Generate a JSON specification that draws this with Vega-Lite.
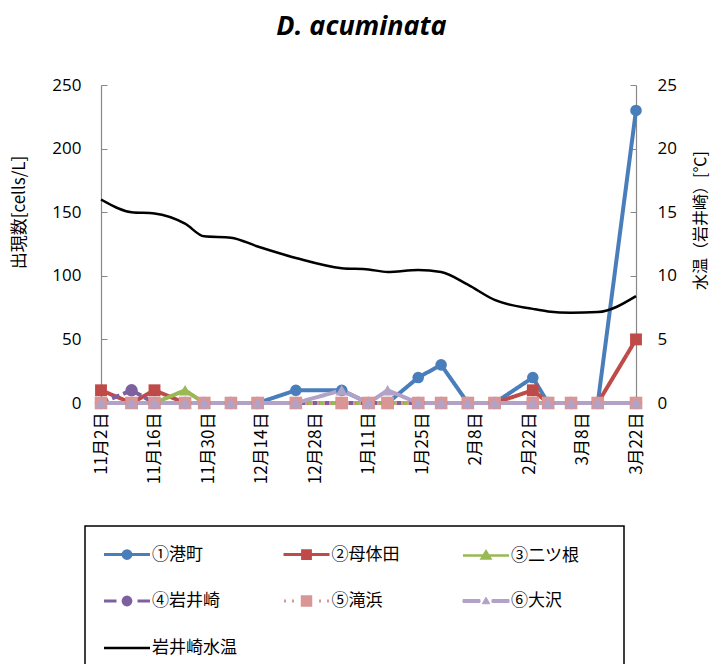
{
  "$schema": "https://vega.github.io/schema/vega-lite/v6.json",
  "width": 535,
  "height": 318,
  "autosize": {"type": "none"},
  "padding": {"left": 101, "top": 85, "right": 87, "bottom": 261},
  "background": "white",
  "title": {"text": "D. acuminata", "font": "Open Sans", "fontSize": 27, "fontWeight": "bold", "fontStyle": "italic", "color": "black", "anchor": "middle", "frame": "group", "dx": -7, "offset": 35},
  "data": {"values": [
    {"d": "2012/11/02", "s": "①港町", "v": 0}, {"d": "2012/11/10", "s": "①港町", "v": 0}, {"d": "2012/11/16", "s": "①港町", "v": 0}, {"d": "2012/11/24", "s": "①港町", "v": 0}, {"d": "2012/11/29", "s": "①港町", "v": 0}, {"d": "2012/12/06", "s": "①港町", "v": 0}, {"d": "2012/12/13", "s": "①港町", "v": 0}, {"d": "2012/12/23", "s": "①港町", "v": 10}, {"d": "2013/01/04", "s": "①港町", "v": 10}, {"d": "2013/01/11", "s": "①港町", "v": 0}, {"d": "2013/01/16", "s": "①港町", "v": 0}, {"d": "2013/01/24", "s": "①港町", "v": 20}, {"d": "2013/01/30", "s": "①港町", "v": 30}, {"d": "2013/02/06", "s": "①港町", "v": 0}, {"d": "2013/02/13", "s": "①港町", "v": 0}, {"d": "2013/02/23", "s": "①港町", "v": 20}, {"d": "2013/02/27", "s": "①港町", "v": 0}, {"d": "2013/03/05", "s": "①港町", "v": 0}, {"d": "2013/03/12", "s": "①港町", "v": 0}, {"d": "2013/03/22", "s": "①港町", "v": 230},
    {"d": "2012/11/02", "s": "②母体田", "v": 10}, {"d": "2012/11/10", "s": "②母体田", "v": 0}, {"d": "2012/11/16", "s": "②母体田", "v": 10}, {"d": "2012/11/24", "s": "②母体田", "v": 0}, {"d": "2012/11/29", "s": "②母体田", "v": 0}, {"d": "2012/12/06", "s": "②母体田", "v": 0}, {"d": "2012/12/13", "s": "②母体田", "v": 0}, {"d": "2012/12/23", "s": "②母体田", "v": 0}, {"d": "2013/01/04", "s": "②母体田", "v": 0}, {"d": "2013/01/11", "s": "②母体田", "v": 0}, {"d": "2013/01/16", "s": "②母体田", "v": 0}, {"d": "2013/01/24", "s": "②母体田", "v": 0}, {"d": "2013/01/30", "s": "②母体田", "v": 0}, {"d": "2013/02/06", "s": "②母体田", "v": 0}, {"d": "2013/02/13", "s": "②母体田", "v": 0}, {"d": "2013/02/23", "s": "②母体田", "v": 10}, {"d": "2013/02/27", "s": "②母体田", "v": 0}, {"d": "2013/03/05", "s": "②母体田", "v": 0}, {"d": "2013/03/12", "s": "②母体田", "v": 0}, {"d": "2013/03/22", "s": "②母体田", "v": 50},
    {"d": "2012/11/02", "s": "③二ツ根", "v": 0}, {"d": "2012/11/10", "s": "③二ツ根", "v": 0}, {"d": "2012/11/16", "s": "③二ツ根", "v": 0}, {"d": "2012/11/24", "s": "③二ツ根", "v": 10}, {"d": "2012/11/29", "s": "③二ツ根", "v": 0}, {"d": "2012/12/06", "s": "③二ツ根", "v": 0}, {"d": "2012/12/13", "s": "③二ツ根", "v": 0}, {"d": "2012/12/23", "s": "③二ツ根", "v": 0}, {"d": "2013/01/04", "s": "③二ツ根", "v": 0}, {"d": "2013/01/11", "s": "③二ツ根", "v": 0}, {"d": "2013/01/16", "s": "③二ツ根", "v": 0}, {"d": "2013/01/24", "s": "③二ツ根", "v": 0}, {"d": "2013/01/30", "s": "③二ツ根", "v": 0}, {"d": "2013/02/06", "s": "③二ツ根", "v": 0}, {"d": "2013/02/13", "s": "③二ツ根", "v": 0}, {"d": "2013/02/23", "s": "③二ツ根", "v": 0}, {"d": "2013/02/27", "s": "③二ツ根", "v": 0}, {"d": "2013/03/05", "s": "③二ツ根", "v": 0}, {"d": "2013/03/12", "s": "③二ツ根", "v": 0}, {"d": "2013/03/22", "s": "③二ツ根", "v": 0},
    {"d": "2012/11/02", "s": "④岩井崎", "v": 0}, {"d": "2012/11/10", "s": "④岩井崎", "v": 10}, {"d": "2012/11/16", "s": "④岩井崎", "v": 0}, {"d": "2012/11/24", "s": "④岩井崎", "v": 0}, {"d": "2012/11/29", "s": "④岩井崎", "v": 0}, {"d": "2012/12/06", "s": "④岩井崎", "v": 0}, {"d": "2012/12/13", "s": "④岩井崎", "v": 0}, {"d": "2012/12/23", "s": "④岩井崎", "v": 0}, {"d": "2013/01/04", "s": "④岩井崎", "v": 0}, {"d": "2013/01/11", "s": "④岩井崎", "v": 0}, {"d": "2013/01/16", "s": "④岩井崎", "v": 0}, {"d": "2013/01/24", "s": "④岩井崎", "v": 0}, {"d": "2013/01/30", "s": "④岩井崎", "v": 0}, {"d": "2013/02/06", "s": "④岩井崎", "v": 0}, {"d": "2013/02/13", "s": "④岩井崎", "v": 0}, {"d": "2013/02/23", "s": "④岩井崎", "v": 0}, {"d": "2013/02/27", "s": "④岩井崎", "v": 0}, {"d": "2013/03/05", "s": "④岩井崎", "v": 0}, {"d": "2013/03/12", "s": "④岩井崎", "v": 0}, {"d": "2013/03/22", "s": "④岩井崎", "v": 0},
    {"d": "2012/11/02", "s": "⑤滝浜", "v": 0}, {"d": "2012/11/10", "s": "⑤滝浜", "v": 0}, {"d": "2012/11/16", "s": "⑤滝浜", "v": 0}, {"d": "2012/11/24", "s": "⑤滝浜", "v": 0}, {"d": "2012/11/29", "s": "⑤滝浜", "v": 0}, {"d": "2012/12/06", "s": "⑤滝浜", "v": 0}, {"d": "2012/12/13", "s": "⑤滝浜", "v": 0}, {"d": "2012/12/23", "s": "⑤滝浜", "v": 0}, {"d": "2013/01/04", "s": "⑤滝浜", "v": 0}, {"d": "2013/01/11", "s": "⑤滝浜", "v": 0}, {"d": "2013/01/16", "s": "⑤滝浜", "v": 0}, {"d": "2013/01/24", "s": "⑤滝浜", "v": 0}, {"d": "2013/01/30", "s": "⑤滝浜", "v": 0}, {"d": "2013/02/06", "s": "⑤滝浜", "v": 0}, {"d": "2013/02/13", "s": "⑤滝浜", "v": 0}, {"d": "2013/02/23", "s": "⑤滝浜", "v": 0}, {"d": "2013/02/27", "s": "⑤滝浜", "v": 0}, {"d": "2013/03/05", "s": "⑤滝浜", "v": 0}, {"d": "2013/03/12", "s": "⑤滝浜", "v": 0}, {"d": "2013/03/22", "s": "⑤滝浜", "v": 0},
    {"d": "2012/11/02", "s": "⑥大沢", "v": 0}, {"d": "2012/11/10", "s": "⑥大沢", "v": 0}, {"d": "2012/11/16", "s": "⑥大沢", "v": 0}, {"d": "2012/11/24", "s": "⑥大沢", "v": 0}, {"d": "2012/11/29", "s": "⑥大沢", "v": 0}, {"d": "2012/12/06", "s": "⑥大沢", "v": 0}, {"d": "2012/12/13", "s": "⑥大沢", "v": 0}, {"d": "2012/12/23", "s": "⑥大沢", "v": 0}, {"d": "2013/01/04", "s": "⑥大沢", "v": 10}, {"d": "2013/01/11", "s": "⑥大沢", "v": 0}, {"d": "2013/01/16", "s": "⑥大沢", "v": 10}, {"d": "2013/01/24", "s": "⑥大沢", "v": 0}, {"d": "2013/01/30", "s": "⑥大沢", "v": 0}, {"d": "2013/02/06", "s": "⑥大沢", "v": 0}, {"d": "2013/02/13", "s": "⑥大沢", "v": 0}, {"d": "2013/02/23", "s": "⑥大沢", "v": 0}, {"d": "2013/02/27", "s": "⑥大沢", "v": 0}, {"d": "2013/03/05", "s": "⑥大沢", "v": 0}, {"d": "2013/03/12", "s": "⑥大沢", "v": 0}, {"d": "2013/03/22", "s": "⑥大沢", "v": 0},
    {"d": "2012/11/02", "s": "岩井崎水温", "v": 16.0}, {"d": "2012/11/10", "s": "岩井崎水温", "v": 15.0}, {"d": "2012/11/16", "s": "岩井崎水温", "v": 14.9}, {"d": "2012/11/24", "s": "岩井崎水温", "v": 14.1}, {"d": "2012/11/29", "s": "岩井崎水温", "v": 13.1}, {"d": "2012/12/06", "s": "岩井崎水温", "v": 13.0}, {"d": "2012/12/13", "s": "岩井崎水温", "v": 12.3}, {"d": "2012/12/23", "s": "岩井崎水温", "v": 11.4}, {"d": "2013/01/04", "s": "岩井崎水温", "v": 10.6}, {"d": "2013/01/11", "s": "岩井崎水温", "v": 10.5}, {"d": "2013/01/16", "s": "岩井崎水温", "v": 10.3}, {"d": "2013/01/24", "s": "岩井崎水温", "v": 10.45}, {"d": "2013/01/30", "s": "岩井崎水温", "v": 10.3}, {"d": "2013/02/06", "s": "岩井崎水温", "v": 9.3}, {"d": "2013/02/13", "s": "岩井崎水温", "v": 8.1}, {"d": "2013/02/23", "s": "岩井崎水温", "v": 7.4}, {"d": "2013/02/27", "s": "岩井崎水温", "v": 7.2}, {"d": "2013/03/05", "s": "岩井崎水温", "v": 7.1}, {"d": "2013/03/12", "s": "岩井崎水温", "v": 7.15}, {"d": "2013/03/22", "s": "岩井崎水温", "v": 8.4}
  ]},
  "layer": [
    {
      "transform": [{"filter": "datum.s !== '岩井崎水温'"}],
      "layer": [
        {
          "mark": {"type": "line", "strokeJoin": "round"},
          "encoding": {
            "x": {"field": "d", "type": "temporal",
              "scale": {"domain": [{"year": 2012, "month": 11, "date": 2}, {"year": 2013, "month": 3, "date": 22}], "nice": false},
              "axis": {"title": null, "format": "%-m月%-d日", "labelAngle": -90, "labelFont": "Noto Sans CJK JP", "labelFontSize": 17, "labelColor": "black", "labelPadding": 9, "ticks": false, "domainColor": "#888888", "domainWidth": 1.2, "grid": false, "labelOverlap": false,
                "values": [{"year": 2012, "month": 11, "date": 2}, {"year": 2012, "month": 11, "date": 16}, {"year": 2012, "month": 11, "date": 30}, {"year": 2012, "month": 12, "date": 14}, {"year": 2012, "month": 12, "date": 28}, {"year": 2013, "month": 1, "date": 11}, {"year": 2013, "month": 1, "date": 25}, {"year": 2013, "month": 2, "date": 8}, {"year": 2013, "month": 2, "date": 22}, {"year": 2013, "month": 3, "date": 8}, {"year": 2013, "month": 3, "date": 22}]}},
            "y": {"field": "v", "type": "quantitative",
              "scale": {"domain": [0, 250], "nice": false},
              "axis": {"orient": "left", "title": "出現数[cells/L]", "titleFont": "Noto Sans CJK JP", "titleFontSize": 17, "titleFontWeight": "normal", "titleColor": "black", "titleX": -82, "titleY": 127, "titleBaseline": "middle", "titleAngle": -90,
                "values": [0, 50, 100, 150, 200, 250], "labelFont": "Open Sans", "labelFontSize": 17, "labelColor": "black", "tickSize": -6, "tickColor": "#888888", "labelPadding": 26, "domainColor": "#888888", "domainWidth": 1.2, "grid": false}},
            "color": {"field": "s", "type": "nominal",
              "scale": {"domain": ["①港町", "②母体田", "③二ツ根", "④岩井崎", "⑤滝浜", "⑥大沢", "岩井崎水温"], "range": ["#4A7EBB", "#BE4B48", "#98B954", "#7D60A0", "#D99694", "#B3A2C7", "#000000"]},
              "legend": {
                "title": null, "orient": "none", "legendX": -16, "legendY": 441, "direction": "horizontal", "columns": 3, "gridAlign": "all", "columnPadding": 30.5, "rowPadding": 25,
                "padding": 18, "strokeColor": "black", "fillColor": "white",
                "labelFont": "Noto Sans CJK JP", "labelFontSize": 17, "labelColor": "black", "labelLimit": 300,
                "symbolSize": 100,
                "encode": {
                  "legend": {"update": {"strokeWidth": {"value": 1.5}}},
                  "labels": {"update": {"x": {"value": 49}, "y": {"value": 10}, "baseline": {"value": "middle"}}},
                  "symbols": {"update": {
                    "x": {"value": 24},
                    "y": {"value": 10},
                    "shape": {"signal": "['M-4.6,0H4.6M-0.78,0C-0.78,-0.43,-0.43,-0.78,0,-0.78C0.43,-0.78,0.78,-0.43,0.78,0C0.78,0.43,0.43,0.78,0,0.78C-0.43,0.78,-0.78,0.43,-0.78,0Z', 'M-4.6,0H4.6M-0.78,-0.78H0.78V0.78H-0.78Z', 'M-4.6,0H4.6M0,-0.8L0.85,0.6H-0.85ZM23,0', 'M-4.6,0H-2.1M2.1,0H4.6M-0.78,0C-0.78,-0.43,-0.43,-0.78,0,-0.78C0.43,-0.78,0.78,-0.43,0.78,0C0.78,0.43,0.43,0.78,0,0.78C-0.43,0.78,-0.78,0.43,-0.78,0Z', 'M-4.5,0H-4.1M-2.9,0H-2.5M2.5,0H2.9M4.1,0H4.5M-0.85,-0.85H0.85V0.85H-0.85Z', 'M-4.6,-0.3H-1.2V0.3H-4.6ZM1.2,-0.3H4.6V0.3H1.2ZM0,-0.75L0.75,0.55H-0.75Z', 'M-4.6,0H4.6'][datum.index]"},
                    "fill": {"scale": "color", "field": "value"},
                    "stroke": {"scale": "color", "field": "value"},
                    "strokeWidth": {"signal": "[3, 3, 2.5, 3, 3, 1, 2.5][datum.index]"},
                    "opacity": {"value": 1}
                  }}
                }
              }},
            "strokeDash": {"field": "s", "type": "nominal",
              "scale": {"domain": ["①港町", "②母体田", "③二ツ根", "④岩井崎", "⑤滝浜", "⑥大沢"], "range": [[1, 0], [1, 0], [1, 0], [8, 4], [2, 4], [1, 0]]}, "legend": null},
            "strokeWidth": {"field": "s", "type": "ordinal",
              "scale": {"domain": ["①港町", "②母体田", "③二ツ根", "④岩井崎", "⑤滝浜", "⑥大沢"], "range": [4, 4, 3, 3, 3, 2]}, "legend": null}
          }
        },
        {
          "transform": [{"filter": "datum.s !== '⑥大沢'"}],
          "mark": {"type": "point", "filled": true, "opacity": 1, "strokeWidth": 0},
          "encoding": {
            "x": {"field": "d", "type": "temporal"},
            "y": {"field": "v", "type": "quantitative"},
            "color": {"field": "s", "type": "nominal",
              "scale": {"domain": ["①港町", "②母体田", "③二ツ根", "④岩井崎", "⑤滝浜", "⑥大沢", "岩井崎水温"], "range": ["#4A7EBB", "#BE4B48", "#98B954", "#7D60A0", "#D99694", "#B3A2C7", "#000000"]}},
            "shape": {"field": "s", "type": "nominal",
              "scale": {"domain": ["①港町", "②母体田", "③二ツ根", "④岩井崎", "⑤滝浜", "⑥大沢"], "range": ["circle", "square", "triangle-up", "circle", "square", "triangle-up"]}, "legend": null},
            "size": {"field": "s", "type": "ordinal",
              "scale": {"domain": ["①港町", "②母体田", "③二ツ根", "④岩井崎", "⑤滝浜", "⑥大沢"], "range": [135, 165, 160, 135, 165, 150]}, "legend": null}
          }
        },
        {
          "transform": [{"filter": "datum.s === '⑥大沢'"}],
          "mark": {"type": "point", "filled": true, "opacity": 1, "strokeWidth": 0, "shape": "triangle-up", "size": 150},
          "encoding": {
            "x": {"field": "d", "type": "temporal"},
            "y": {"field": "v", "type": "quantitative"},
            "color": {"field": "s", "type": "nominal",
              "scale": {"domain": ["①港町", "②母体田", "③二ツ根", "④岩井崎", "⑤滝浜", "⑥大沢", "岩井崎水温"], "range": ["#4A7EBB", "#BE4B48", "#98B954", "#7D60A0", "#D99694", "#B3A2C7", "#000000"]}}
          }
        }
      ]
    },
    {
      "transform": [{"filter": "datum.s === '岩井崎水温'"}],
      "mark": {"type": "line", "interpolate": "monotone", "strokeWidth": 2.5},
      "encoding": {
        "x": {"field": "d", "type": "temporal"},
        "y": {"field": "v", "type": "quantitative",
          "scale": {"domain": [0, 25], "nice": false},
          "axis": {"orient": "right", "title": "水温（岩井崎）[℃]", "titleFont": "Noto Sans CJK JP", "titleFontSize": 16, "titleFontWeight": "normal", "titleColor": "black", "titleX": 64, "titleY": 135, "titleBaseline": "middle", "titleAngle": -90,
            "values": [0, 5, 10, 15, 20, 25], "labelFont": "Open Sans", "labelFontSize": 17, "labelColor": "black", "tickSize": -6, "tickColor": "#888888", "labelPadding": 27, "domainColor": "#888888", "domainWidth": 1.2, "grid": false}},
        "color": {"field": "s", "type": "nominal",
          "scale": {"domain": ["①港町", "②母体田", "③二ツ根", "④岩井崎", "⑤滝浜", "⑥大沢", "岩井崎水温"], "range": ["#4A7EBB", "#BE4B48", "#98B954", "#7D60A0", "#D99694", "#B3A2C7", "#000000"]}}
      }
    }
  ],
  "resolve": {"scale": {"y": "independent"}},
  "config": {"view": {"stroke": null}}
}
